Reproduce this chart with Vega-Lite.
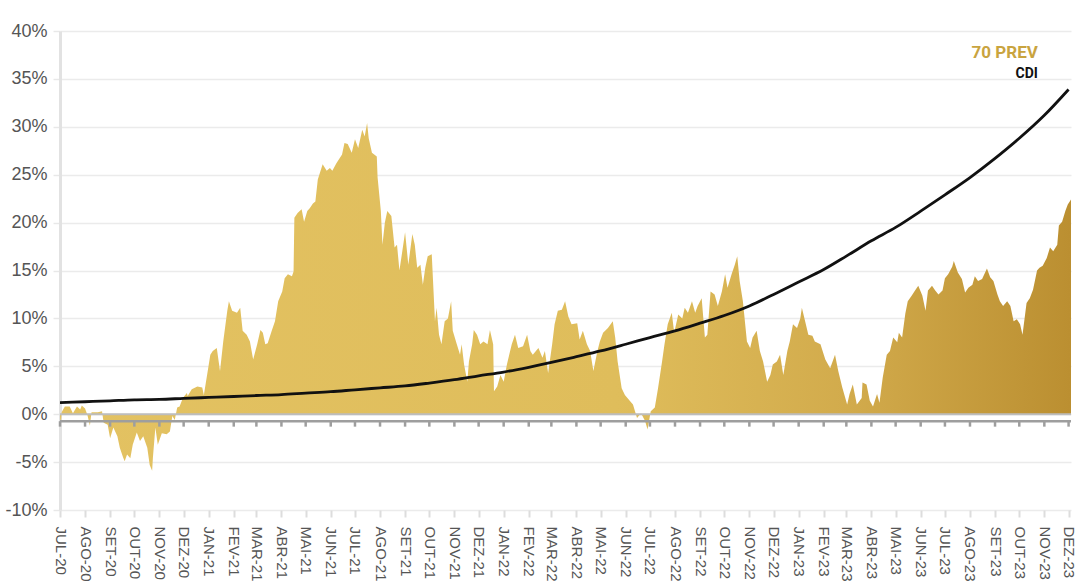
{
  "$schema": "https://vega.github.io/schema/vega-lite/v6.json",
  "width": 1011,
  "height": 479,
  "autosize": {"type": "none"},
  "padding": {"left": 60, "top": 31, "right": 5, "bottom": 71},
  "background": "white",
  "config": {
    "view": {"stroke": null},
    "font": "Liberation Sans"
  },
  "datasets": {
    "prev": [
      {"date": "2020-07-01", "value": -0.3}, {"date": "2020-07-02", "value": -1.2}, {"date": "2020-07-03", "value": 0.2},
      {"date": "2020-07-07", "value": 0.8}, {"date": "2020-07-13", "value": 0.8}, {"date": "2020-07-17", "value": 0.1},
      {"date": "2020-07-22", "value": 0.8}, {"date": "2020-07-26", "value": 0.5}, {"date": "2020-07-28", "value": 0.9},
      {"date": "2020-08-01", "value": 0.6}, {"date": "2020-08-04", "value": -0.1}, {"date": "2020-08-07", "value": -1.2},
      {"date": "2020-08-09", "value": 0.2}, {"date": "2020-08-17", "value": 0.2}, {"date": "2020-08-22", "value": 0.3},
      {"date": "2020-08-24", "value": -0.9}, {"date": "2020-08-29", "value": -1.1}, {"date": "2020-09-01", "value": -2.5},
      {"date": "2020-09-05", "value": -1.4}, {"date": "2020-09-10", "value": -2.3}, {"date": "2020-09-13", "value": -3.5},
      {"date": "2020-09-17", "value": -4.5}, {"date": "2020-09-19", "value": -4.9}, {"date": "2020-09-22", "value": -4.2},
      {"date": "2020-09-26", "value": -4.6}, {"date": "2020-09-29", "value": -3.2}, {"date": "2020-10-04", "value": -1.9},
      {"date": "2020-10-08", "value": -2.8}, {"date": "2020-10-12", "value": -2.3}, {"date": "2020-10-17", "value": -3.5},
      {"date": "2020-10-20", "value": -5.3}, {"date": "2020-10-23", "value": -5.9}, {"date": "2020-10-24", "value": -4.5},
      {"date": "2020-10-27", "value": -1.4}, {"date": "2020-10-30", "value": -3.2}, {"date": "2020-11-04", "value": -2.0},
      {"date": "2020-11-10", "value": -2.1}, {"date": "2020-11-14", "value": -1.8}, {"date": "2020-11-17", "value": -0.2},
      {"date": "2020-11-20", "value": -0.6}, {"date": "2020-11-23", "value": 0.7}, {"date": "2020-11-26", "value": 0.8},
      {"date": "2020-11-30", "value": 1.7}, {"date": "2020-12-05", "value": 2.2}, {"date": "2020-12-06", "value": 1.9},
      {"date": "2020-12-11", "value": 2.6}, {"date": "2020-12-18", "value": 2.9}, {"date": "2020-12-24", "value": 2.8},
      {"date": "2020-12-26", "value": 2.0}, {"date": "2020-12-30", "value": 4.1}, {"date": "2021-01-03", "value": 6.2},
      {"date": "2021-01-06", "value": 6.6}, {"date": "2021-01-11", "value": 6.9}, {"date": "2021-01-15", "value": 4.5},
      {"date": "2021-01-19", "value": 7.6}, {"date": "2021-01-24", "value": 10.8}, {"date": "2021-01-26", "value": 11.8},
      {"date": "2021-01-30", "value": 10.8}, {"date": "2021-02-05", "value": 10.6}, {"date": "2021-02-09", "value": 11.1},
      {"date": "2021-02-12", "value": 8.7}, {"date": "2021-02-17", "value": 8.3}, {"date": "2021-02-21", "value": 7.6},
      {"date": "2021-02-25", "value": 5.7}, {"date": "2021-03-02", "value": 7.3}, {"date": "2021-03-06", "value": 8.8},
      {"date": "2021-03-09", "value": 8.5}, {"date": "2021-03-12", "value": 7.3}, {"date": "2021-03-15", "value": 7.4},
      {"date": "2021-03-20", "value": 8.7}, {"date": "2021-03-24", "value": 9.7}, {"date": "2021-03-28", "value": 11.8},
      {"date": "2021-04-02", "value": 12.8}, {"date": "2021-04-05", "value": 14.2}, {"date": "2021-04-09", "value": 14.6},
      {"date": "2021-04-14", "value": 14.4}, {"date": "2021-04-16", "value": 14.9}, {"date": "2021-04-17", "value": 20.5},
      {"date": "2021-04-21", "value": 21.0}, {"date": "2021-04-26", "value": 21.4}, {"date": "2021-04-29", "value": 20.1},
      {"date": "2021-05-03", "value": 21.2}, {"date": "2021-05-06", "value": 21.5}, {"date": "2021-05-10", "value": 22.0},
      {"date": "2021-05-13", "value": 22.2}, {"date": "2021-05-16", "value": 24.5}, {"date": "2021-05-22", "value": 26.1},
      {"date": "2021-05-27", "value": 25.4}, {"date": "2021-05-31", "value": 25.7}, {"date": "2021-06-03", "value": 25.4},
      {"date": "2021-06-08", "value": 26.2}, {"date": "2021-06-15", "value": 27.1}, {"date": "2021-06-18", "value": 28.3},
      {"date": "2021-06-22", "value": 28.2}, {"date": "2021-06-27", "value": 27.3}, {"date": "2021-07-01", "value": 28.7},
      {"date": "2021-07-05", "value": 27.8}, {"date": "2021-07-10", "value": 29.7}, {"date": "2021-07-13", "value": 29.0},
      {"date": "2021-07-16", "value": 30.4}, {"date": "2021-07-18", "value": 28.8}, {"date": "2021-07-22", "value": 27.3},
      {"date": "2021-07-28", "value": 26.9}, {"date": "2021-07-29", "value": 24.7}, {"date": "2021-08-02", "value": 21.2},
      {"date": "2021-08-04", "value": 17.7}, {"date": "2021-08-07", "value": 20.0}, {"date": "2021-08-10", "value": 21.2},
      {"date": "2021-08-15", "value": 20.7}, {"date": "2021-08-19", "value": 17.4}, {"date": "2021-08-22", "value": 17.7},
      {"date": "2021-08-25", "value": 15.0}, {"date": "2021-08-28", "value": 16.7}, {"date": "2021-09-01", "value": 19.0},
      {"date": "2021-09-05", "value": 15.6}, {"date": "2021-09-10", "value": 18.8}, {"date": "2021-09-13", "value": 17.7},
      {"date": "2021-09-16", "value": 15.3}, {"date": "2021-09-20", "value": 15.6}, {"date": "2021-09-23", "value": 13.5},
      {"date": "2021-09-26", "value": 15.3}, {"date": "2021-09-29", "value": 16.5}, {"date": "2021-10-04", "value": 16.7},
      {"date": "2021-10-08", "value": 9.7}, {"date": "2021-10-10", "value": 11.1}, {"date": "2021-10-13", "value": 8.3},
      {"date": "2021-10-16", "value": 7.3}, {"date": "2021-10-20", "value": 9.7}, {"date": "2021-10-24", "value": 10.0},
      {"date": "2021-10-28", "value": 11.8}, {"date": "2021-10-30", "value": 8.7}, {"date": "2021-11-04", "value": 7.3},
      {"date": "2021-11-08", "value": 6.2}, {"date": "2021-11-10", "value": 7.3}, {"date": "2021-11-13", "value": 5.2},
      {"date": "2021-11-17", "value": 3.4}, {"date": "2021-11-19", "value": 5.5}, {"date": "2021-11-23", "value": 7.3},
      {"date": "2021-11-25", "value": 8.8}, {"date": "2021-11-29", "value": 8.3}, {"date": "2021-12-03", "value": 7.3},
      {"date": "2021-12-07", "value": 7.6}, {"date": "2021-12-12", "value": 7.3}, {"date": "2021-12-15", "value": 8.8},
      {"date": "2021-12-19", "value": 7.3}, {"date": "2021-12-20", "value": 2.4}, {"date": "2021-12-24", "value": 2.9},
      {"date": "2021-12-28", "value": 4.1}, {"date": "2022-01-01", "value": 3.4}, {"date": "2022-01-05", "value": 5.2},
      {"date": "2022-01-11", "value": 7.3}, {"date": "2022-01-15", "value": 8.3}, {"date": "2022-01-19", "value": 6.9},
      {"date": "2022-01-25", "value": 7.1}, {"date": "2022-01-30", "value": 8.3}, {"date": "2022-02-03", "value": 6.6},
      {"date": "2022-02-06", "value": 6.2}, {"date": "2022-02-13", "value": 6.9}, {"date": "2022-02-18", "value": 5.9},
      {"date": "2022-02-21", "value": 6.6}, {"date": "2022-02-25", "value": 4.3}, {"date": "2022-03-02", "value": 7.3},
      {"date": "2022-03-05", "value": 9.4}, {"date": "2022-03-09", "value": 10.8}, {"date": "2022-03-14", "value": 10.9},
      {"date": "2022-03-18", "value": 11.8}, {"date": "2022-03-22", "value": 10.2}, {"date": "2022-03-26", "value": 9.4},
      {"date": "2022-04-02", "value": 9.5}, {"date": "2022-04-05", "value": 7.8}, {"date": "2022-04-09", "value": 8.7},
      {"date": "2022-04-14", "value": 7.3}, {"date": "2022-04-18", "value": 6.6}, {"date": "2022-04-22", "value": 4.5},
      {"date": "2022-04-27", "value": 6.6}, {"date": "2022-04-30", "value": 7.6}, {"date": "2022-05-04", "value": 8.5},
      {"date": "2022-05-10", "value": 9.0}, {"date": "2022-05-16", "value": 9.7}, {"date": "2022-05-19", "value": 8.0},
      {"date": "2022-05-22", "value": 5.5}, {"date": "2022-05-27", "value": 2.7}, {"date": "2022-05-31", "value": 2.0},
      {"date": "2022-06-06", "value": 1.4}, {"date": "2022-06-10", "value": 1.0}, {"date": "2022-06-15", "value": -0.4},
      {"date": "2022-06-20", "value": 0.1}, {"date": "2022-06-25", "value": -0.7}, {"date": "2022-06-28", "value": -1.6},
      {"date": "2022-07-02", "value": 0.3}, {"date": "2022-07-07", "value": 0.7}, {"date": "2022-07-11", "value": 2.7},
      {"date": "2022-07-16", "value": 5.5}, {"date": "2022-07-19", "value": 7.3}, {"date": "2022-07-23", "value": 9.4},
      {"date": "2022-07-28", "value": 10.6}, {"date": "2022-07-31", "value": 8.5}, {"date": "2022-08-05", "value": 10.4},
      {"date": "2022-08-10", "value": 10.0}, {"date": "2022-08-13", "value": 11.1}, {"date": "2022-08-17", "value": 10.6},
      {"date": "2022-08-22", "value": 11.8}, {"date": "2022-08-26", "value": 10.6}, {"date": "2022-08-29", "value": 11.3},
      {"date": "2022-09-03", "value": 12.1}, {"date": "2022-09-07", "value": 8.0}, {"date": "2022-09-10", "value": 8.3},
      {"date": "2022-09-14", "value": 12.8}, {"date": "2022-09-19", "value": 12.5}, {"date": "2022-09-23", "value": 11.3},
      {"date": "2022-09-28", "value": 12.8}, {"date": "2022-10-02", "value": 14.6}, {"date": "2022-10-05", "value": 13.2},
      {"date": "2022-10-10", "value": 14.6}, {"date": "2022-10-14", "value": 15.6}, {"date": "2022-10-17", "value": 16.5},
      {"date": "2022-10-20", "value": 13.9}, {"date": "2022-10-24", "value": 11.8}, {"date": "2022-10-29", "value": 7.6},
      {"date": "2022-11-02", "value": 6.9}, {"date": "2022-11-05", "value": 8.0}, {"date": "2022-11-10", "value": 8.7},
      {"date": "2022-11-14", "value": 6.6}, {"date": "2022-11-18", "value": 5.5}, {"date": "2022-11-23", "value": 3.4},
      {"date": "2022-11-27", "value": 4.1}, {"date": "2022-11-30", "value": 5.2}, {"date": "2022-12-05", "value": 5.5},
      {"date": "2022-12-09", "value": 6.2}, {"date": "2022-12-13", "value": 4.1}, {"date": "2022-12-18", "value": 6.6},
      {"date": "2022-12-21", "value": 7.6}, {"date": "2022-12-25", "value": 9.4}, {"date": "2022-12-30", "value": 9.0},
      {"date": "2023-01-03", "value": 10.0}, {"date": "2023-01-05", "value": 11.1}, {"date": "2023-01-09", "value": 9.7},
      {"date": "2023-01-13", "value": 8.3}, {"date": "2023-01-18", "value": 8.2}, {"date": "2023-01-21", "value": 7.6},
      {"date": "2023-01-28", "value": 7.3}, {"date": "2023-02-03", "value": 5.7}, {"date": "2023-02-09", "value": 4.8},
      {"date": "2023-02-15", "value": 6.2}, {"date": "2023-02-19", "value": 4.5}, {"date": "2023-02-24", "value": 2.8},
      {"date": "2023-03-02", "value": 1.0}, {"date": "2023-03-05", "value": 2.1}, {"date": "2023-03-09", "value": 3.1},
      {"date": "2023-03-14", "value": 1.0}, {"date": "2023-03-20", "value": 1.7}, {"date": "2023-03-21", "value": 3.3},
      {"date": "2023-03-26", "value": 3.1}, {"date": "2023-03-30", "value": 1.4}, {"date": "2023-04-03", "value": 0.8},
      {"date": "2023-04-08", "value": 2.1}, {"date": "2023-04-11", "value": 1.2}, {"date": "2023-04-15", "value": 3.8},
      {"date": "2023-04-20", "value": 6.2}, {"date": "2023-04-24", "value": 6.6}, {"date": "2023-04-28", "value": 8.0},
      {"date": "2023-05-03", "value": 7.5}, {"date": "2023-05-05", "value": 8.5}, {"date": "2023-05-09", "value": 8.0},
      {"date": "2023-05-13", "value": 10.5}, {"date": "2023-05-16", "value": 11.8}, {"date": "2023-05-21", "value": 12.4},
      {"date": "2023-05-25", "value": 12.9}, {"date": "2023-05-29", "value": 13.4}, {"date": "2023-06-03", "value": 12.4},
      {"date": "2023-06-07", "value": 10.8}, {"date": "2023-06-10", "value": 12.9}, {"date": "2023-06-15", "value": 13.4},
      {"date": "2023-06-19", "value": 12.9}, {"date": "2023-06-23", "value": 12.5}, {"date": "2023-06-28", "value": 12.9},
      {"date": "2023-07-01", "value": 14.2}, {"date": "2023-07-05", "value": 14.6}, {"date": "2023-07-10", "value": 15.4},
      {"date": "2023-07-12", "value": 16.0}, {"date": "2023-07-17", "value": 14.8}, {"date": "2023-07-22", "value": 14.1},
      {"date": "2023-07-26", "value": 12.7}, {"date": "2023-07-30", "value": 13.2}, {"date": "2023-08-04", "value": 13.5},
      {"date": "2023-08-07", "value": 14.4}, {"date": "2023-08-11", "value": 13.9}, {"date": "2023-08-16", "value": 14.1},
      {"date": "2023-08-22", "value": 15.2}, {"date": "2023-08-26", "value": 14.3}, {"date": "2023-08-30", "value": 13.9},
      {"date": "2023-09-04", "value": 12.5}, {"date": "2023-09-07", "value": 11.8}, {"date": "2023-09-11", "value": 11.3},
      {"date": "2023-09-16", "value": 11.8}, {"date": "2023-09-20", "value": 11.3}, {"date": "2023-09-24", "value": 9.7},
      {"date": "2023-09-28", "value": 9.9}, {"date": "2023-10-02", "value": 9.4}, {"date": "2023-10-05", "value": 8.3},
      {"date": "2023-10-10", "value": 11.6}, {"date": "2023-10-14", "value": 12.1}, {"date": "2023-10-18", "value": 13.0},
      {"date": "2023-10-23", "value": 15.0}, {"date": "2023-10-26", "value": 15.3}, {"date": "2023-10-30", "value": 15.5},
      {"date": "2023-11-04", "value": 16.3}, {"date": "2023-11-08", "value": 17.4}, {"date": "2023-11-12", "value": 17.0},
      {"date": "2023-11-17", "value": 17.7}, {"date": "2023-11-19", "value": 19.7}, {"date": "2023-11-23", "value": 20.1},
      {"date": "2023-11-27", "value": 21.2}, {"date": "2023-11-30", "value": 21.9}, {"date": "2023-12-04", "value": 22.4}
    ],
    "cdi": [
      {"date": "2020-07-01", "value": 1.2}, {"date": "2020-08-01", "value": 1.3}, {"date": "2020-09-01", "value": 1.4},
      {"date": "2020-10-01", "value": 1.5}, {"date": "2020-11-01", "value": 1.55}, {"date": "2020-12-01", "value": 1.65},
      {"date": "2021-01-01", "value": 1.75}, {"date": "2021-02-01", "value": 1.85}, {"date": "2021-03-01", "value": 1.95},
      {"date": "2021-04-01", "value": 2.05}, {"date": "2021-05-01", "value": 2.2}, {"date": "2021-06-01", "value": 2.35},
      {"date": "2021-07-01", "value": 2.55}, {"date": "2021-08-01", "value": 2.75}, {"date": "2021-09-01", "value": 2.95},
      {"date": "2021-10-01", "value": 3.25}, {"date": "2021-11-01", "value": 3.6}, {"date": "2021-12-01", "value": 4.0},
      {"date": "2022-01-01", "value": 4.4}, {"date": "2022-02-01", "value": 4.9}, {"date": "2022-03-01", "value": 5.4},
      {"date": "2022-04-01", "value": 6.0}, {"date": "2022-05-01", "value": 6.6}, {"date": "2022-06-01", "value": 7.3},
      {"date": "2022-07-01", "value": 8.0}, {"date": "2022-08-01", "value": 8.7}, {"date": "2022-09-01", "value": 9.5},
      {"date": "2022-10-01", "value": 10.3}, {"date": "2022-11-01", "value": 11.3}, {"date": "2022-12-01", "value": 12.5},
      {"date": "2023-01-01", "value": 13.8}, {"date": "2023-02-01", "value": 15.1}, {"date": "2023-03-01", "value": 16.5},
      {"date": "2023-04-01", "value": 18.1}, {"date": "2023-05-01", "value": 19.5}, {"date": "2023-06-01", "value": 21.2},
      {"date": "2023-07-01", "value": 22.9}, {"date": "2023-08-01", "value": 24.7}, {"date": "2023-09-01", "value": 26.7},
      {"date": "2023-10-01", "value": 28.8}, {"date": "2023-11-01", "value": 31.2}, {"date": "2023-12-01", "value": 33.9}
    ]
  },
  "layer": [
    {
      "data": {"name": "prev"},
      "mark": {
        "type": "area",
        "interpolate": "linear",
        "color": {
          "gradient": "linear",
          "x1": 0, "y1": 0, "x2": 1, "y2": 0,
          "stops": [
            {"offset": 0, "color": "#e3c262"},
            {"offset": 0.55, "color": "#dfbd5b"},
            {"offset": 0.78, "color": "#d2ab4c"},
            {"offset": 1, "color": "#bb8f31"}
          ]
        }
      },
      "encoding": {
        "x": {
          "field": "date",
          "type": "temporal",
          "title": null,
          "scale": {
            "type": "utc",
            "domain": [
              {"year": 2020, "month": 7, "date": 1, "utc": true},
              {"year": 2023, "month": 12, "date": 4, "utc": true}
            ]
          },
          "axis": {
            "tickCount": "month",
            "labelExpr": "['JAN','FEV','MAR','ABR','MAI','JUN','JUL','AGO','SET','OUT','NOV','DEZ'][utcmonth(datum.value)] + '-' + utcFormat(datum.value, '%y')",
            "labelAngle": 90,
            "labelFont": "Liberation Sans",
            "labelFontSize": 15,
            "labelColor": "#555555",
            "labelPadding": 9,
            "labelFlush": false,
            "labelOverlap": false,
            "domain": false,
            "grid": false,
            "ticks": true,
            "tickColor": "#dddddd",
            "tickWidth": 2,
            "tickSize": 7
          }
        },
        "y": {
          "field": "value",
          "type": "quantitative",
          "title": null,
          "scale": {"domain": [-10, 40], "nice": false, "zero": false},
          "axis": {
            "values": [-10, -5, 0, 5, 10, 15, 20, 25, 30, 35, 40],
            "labelExpr": "datum.value + '%'",
            "labelFont": "Liberation Sans",
            "labelFontSize": 18,
            "labelColor": "#555555",
            "labelPadding": 6,
            "grid": true,
            "gridColor": "#ebebeb",
            "gridWidth": 1.5,
            "domainColor": "#e2e2e2",
            "domainWidth": 3,
            "tickColor": "#e8e8e8",
            "tickWidth": 1.5,
            "tickSize": 7
          }
        },
        "y2": {"datum": 0}
      }
    },
    {
      "data": {"name": "cdi"},
      "transform": [{"filter": "datum.value > 33"}],
      "mark": {"type": "rule", "color": "#bdbdbd", "strokeWidth": 2},
      "encoding": {"y": {"datum": 0, "type": "quantitative"}}
    },
    {
      "data": {"name": "cdi"},
      "transform": [{"filter": "datum.value > 33"}],
      "mark": {"type": "rule", "color": "#9e9e9e", "strokeWidth": 2.5},
      "encoding": {"y": {"datum": -0.73, "type": "quantitative"}}
    },
    {
      "data": {"name": "cdi"},
      "mark": {"type": "rule", "color": "#9e9e9e", "strokeWidth": 2.5},
      "encoding": {
        "x": {"field": "date", "type": "temporal"},
        "y": {"datum": -0.73, "type": "quantitative"},
        "y2": {"datum": -1.3}
      }
    },
    {
      "data": {"name": "cdi"},
      "mark": {"type": "line", "color": "#111111", "strokeWidth": 2.8, "interpolate": "monotone"},
      "encoding": {
        "x": {"field": "date", "type": "temporal"},
        "y": {"field": "value", "type": "quantitative"}
      }
    },
    {
      "data": {"name": "cdi"},
      "transform": [{"filter": "datum.value > 33"}],
      "mark": {"type": "text", "align": "right", "baseline": "alphabetic", "font": "Roboto", "fontWeight": "bold", "fontSize": 17, "color": "#c9a43f"},
      "encoding": {
        "x": {"datum": {"year": 2023, "month": 10, "date": 24, "utc": true}, "type": "temporal"},
        "y": {"datum": 37.2, "type": "quantitative"},
        "text": {"value": "70 PREV"}
      }
    },
    {
      "data": {"name": "cdi"},
      "transform": [{"filter": "datum.value > 33"}],
      "mark": {"type": "text", "align": "right", "baseline": "alphabetic", "font": "Roboto", "fontWeight": "bold", "fontSize": 14, "color": "#111111"},
      "encoding": {
        "x": {"datum": {"year": 2023, "month": 10, "date": 24, "utc": true}, "type": "temporal"},
        "y": {"datum": 35.1, "type": "quantitative"},
        "text": {"value": "CDI"}
      }
    }
  ]
}
